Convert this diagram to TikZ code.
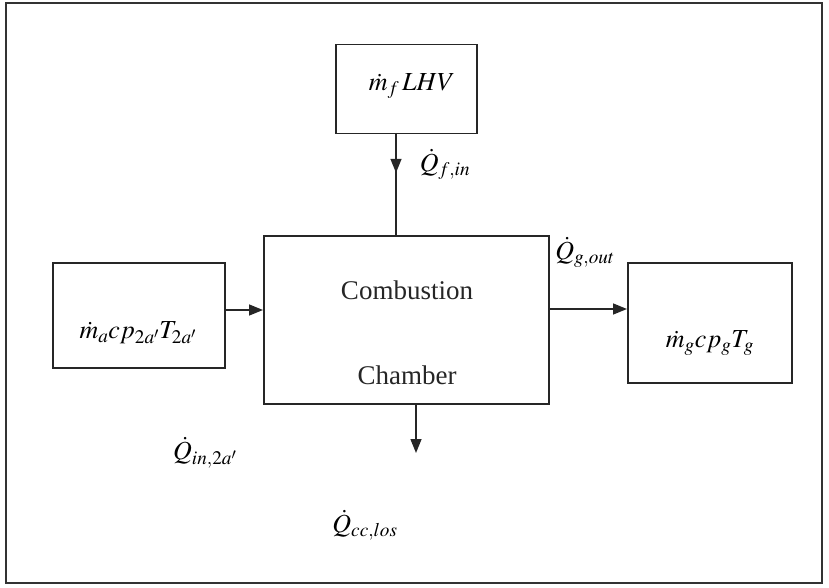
\documentclass[tikz,border=0pt]{standalone}
\usepackage{mathptmx}
\usepackage{fontspec}
\setmainfont{Liberation Serif}
\usetikzlibrary{arrows.meta,decorations.markings}
\begin{document}
\begin{tikzpicture}[x=1pt,y=-1pt,
  box/.style={draw=black!85,line width=1.5pt,inner sep=0pt,anchor=north west},
  lbl/.style={inner sep=0pt,font=\fontsize{26}{30}\selectfont},
  word/.style={inner sep=0pt,font=\fontsize{27}{30}\selectfont,text=black!85},
  con/.style={draw=black!85,line width=1.5pt},
  tip/.style={-{Triangle[length=14pt,width=11pt]}}
]
\useasboundingbox (0,0) rectangle (829,588);
\draw[line width=1.2pt,black!80] (6,3) rectangle (822,583);
% boxes
\node[box,minimum width=141pt,minimum height=89pt] (fuel) at (335,44) {};
\node[box,minimum width=285pt,minimum height=168pt] (cc) at (263,235) {};
\node[box,minimum width=172pt,minimum height=105pt] (air) at (52,262) {};
\node[box,minimum width=164pt,minimum height=120pt] (gas) at (627,262) {};
% texts
\node[lbl] (tfuel) at (412,86) {$\dot{m}_{f}\,LHV$};
\node[word] (tc1) at (407,290) {Combustion};
\node[word] (tc2) at (407,375) {Chamber};
\node[lbl] (tair) at (138,333) {$\dot{m}_{a}cp_{2a'}T_{2a'}$};
\node[lbl] (tgas) at (710,343) {$\dot{m}_{g}cp_{g}T_{g}$};
\node[lbl] (qf) at (445,164) {$\dot{Q}_{f,in}$};
\node[lbl] (qg) at (585,252) {$\dot{Q}_{g,out}$};
\node[lbl] (qin) at (205,453) {$\dot{Q}_{in,2a'}$};
\node[lbl] (qcc) at (365,525) {$\dot{Q}_{cc,los}$};
% connectors
\coordinate (fa) at (396,133);
\coordinate (fb) at (396,235);
\draw[con,postaction={decorate},decoration={markings,mark=at position 0.39 with {\arrow{Triangle[length=14pt,width=11pt]}}}] (fa) -- (fb);
\draw[con,tip] (air.east |- 0,310) -- (cc.west |- 0,310);
\draw[con,tip] (cc.east |- 0,309) -- (gas.west |- 0,309);
\coordinate (la) at (416,403);
\coordinate (lb) at (416,453);
\draw[con,tip] (la) -- (lb);
\end{tikzpicture}
\end{document}
